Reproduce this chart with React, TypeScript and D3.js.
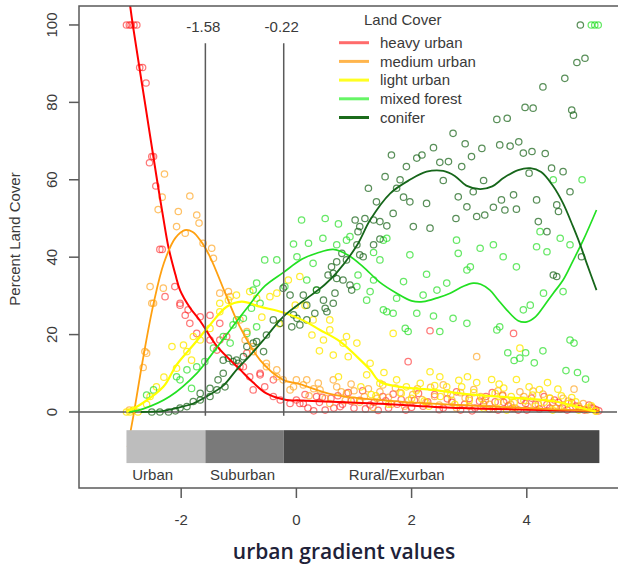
import React from "react";
import * as d3 from "d3";

// ---- data ---------------------------------------------------------------

const coverNames = ["heavy urban", "medium urban", "light urban", "mixed forest", "conifer"];

const xTicks = [-2, 0, 2, 4];
const yTicks = [0, 20, 40, 60, 80, 100];

// gradient break values marked by vertical lines
const breakValues = [-1.58, -0.22];

// urban / suburban / rural zones along the gradient
const zoneNames = ["Urban", "Suburban", "Rural/Exurban"];
const zoneEdges = [-2.95, -1.58, -0.22, 5.26];
const zoneLabelStarts = [-2.85, -1.5, 0.91];

type P = [number, number];

const heavyUrbanPts: P[] = [
  [-2.95, 100], [-2.9, 100], [-2.87, 100], [-2.82, 100], [-2.77, 100],
  [-2.72, 89], [-2.67, 89], [-2.61, 85], [-2.51, 66], [-2.48, 66], [-2.55, 64.4], [-2.44, 58.4],
  [-2.37, 42], [-2.33, 42], [-2.28, 29.8], [-2.11, 32.4], [-2.02, 27.6], [-2.02, 28.1], [-1.88, 26.4],
  [-1.93, 25], [-1.85, 22.9], [-1.73, 20.3], [-1.67, 24.6], [-1.5, 18.6], [-1.5, 25], [-1.33, 22.9],
  [-1.33, 18.6], [-1.38, 16], [-1.21, 19.5], [-0.98, 11.7], [-0.92, 11.7], [-0.86, 15.2], [-0.81, 9.1],
  [-0.75, 5.7], [-0.63, 10], [-0.63, 9.6], [-0.55, 6.5], [-0.4, 8.3], [-0.4, 4], [-0.28, 3.1],
  [-0.11, 2.2], [0, 3.1], [0.06, 2.2], [0.12, 2.2], [0.35, 4], [0.76, 1.4],
  [0.2, 1], [0.4, 2.5], [0.5, 0.5], [0.6, 3.5], [0.8, 2], [0.9, 5], [1.0, 1], [1.1, 3], [1.2, 0.8],
  [1.35, 2.5], [1.5, 4], [1.6, 1], [1.75, 2], [1.94, 13], [1.9, 0.5], [2.05, 3], [2.2, 1.5],
  [2.32, 21], [2.4, 4.5], [2.55, 1], [2.7, 2.5], [2.85, 0.5], [3.0, 3.5], [3.1, 1], [3.25, 2],
  [3.29, 4], [3.4, 5], [3.5, 0.5], [3.6, 2.5], [3.77, 20.3], [3.75, 1], [3.9, 3], [4.0, 0.5],
  [4.15, 2], [4.3, 4], [4.4, 1], [4.55, 2.5], [4.7, 0.5], [4.85, 1.5], [5.0, 0.5], [5.15, 1], [5.25, 0.3],
  [0.15, 4.5], [0.3, 0.3], [0.45, 3.8], [0.65, 1], [0.72, 4.2], [0.95, 2.8], [1.15, 5.5], [1.28, 1.8],
  [1.42, 0.4], [1.55, 2.9], [1.68, 4.6], [1.82, 3.2], [2.0, 1.2], [2.12, 4.8], [2.28, 2.6], [2.48, 0.6],
  [2.62, 3.4], [2.78, 5.2], [2.92, 2], [3.05, 0.3], [3.18, 2.8], [3.35, 0.8], [3.45, 2.6], [3.58, 4.4],
  [3.68, 1.6], [3.85, 0.5], [3.98, 2.2], [4.08, 3.6], [4.22, 0.8], [4.35, 1.9], [4.48, 3.1], [4.62, 1],
  [4.78, 2.4], [4.92, 0.9], [5.08, 1.8], [5.2, 0.6],
];

const mediumUrbanPts: P[] = [
  [-2.9, 0.5], [-2.66, 11.5], [-2.63, 15.6], [-2.6, 15.2], [-2.54, 32.4], [-2.51, 28.1], [-2.48, 28.1],
  [-2.4, 52.3], [-2.33, 55.5], [-2.31, 32], [-2.29, 61.5], [-2.08, 47.9], [-2.05, 51.8], [-1.93, 46.2],
  [-1.85, 55.8], [-1.73, 50.9], [-1.69, 48.8], [-1.62, 43.6], [-1.47, 42.3], [-1.44, 39.7],
  [-1.33, 30.7], [-1.18, 31.1], [-1.15, 29.8], [-0.98, 23.8], [-0.89, 18.6], [-0.86, 20.8],
  [-0.75, 16.9], [-0.75, 15.6], [-0.52, 11.7], [-0.52, 12.6], [-0.34, 9.1], [-0.34, 10.9],
  [-0.23, 8.3], [-0.11, 5.7], [-0.05, 6.5], [0, 8.3], [0.12, 7], [0.18, 8.3], [0.41, 5.7],
  [0.64, 8.3], [0.87, 4.8],
  [0.3, 6], [0.5, 3.5], [0.7, 6.5], [0.85, 3], [1.0, 5.5], [1.1, 2.5], [1.25, 6], [1.4, 3.5],
  [1.5, 7], [1.65, 2], [1.8, 5], [1.95, 3], [2.1, 6], [2.25, 2.5], [2.4, 4], [2.55, 7], [2.7, 3],
  [2.85, 5], [3.0, 1.5], [3.13, 14.3], [3.2, 4], [3.35, 2], [3.5, 5.5], [3.65, 3], [3.8, 1],
  [3.95, 4], [4.11, 5.4], [4.2, 2], [4.4, 3.5], [4.5, 1], [4.63, 3.5], [4.82, 5.9], [4.9, 1.5],
  [5.05, 0.5], [5.2, 0.3],
  [0.22, 4.2], [0.38, 7.5], [0.58, 2.2], [0.78, 5.2], [0.95, 7.2], [1.18, 4], [1.33, 1.2], [1.45, 5.2],
  [1.6, 3.8], [1.72, 6.2], [1.88, 1.5], [2.02, 4.5], [2.18, 3.2], [2.33, 6.4], [2.48, 1.8], [2.62, 4.9],
  [2.78, 1], [2.93, 3.6], [3.08, 5.8], [3.28, 3], [3.42, 0.8], [3.58, 4.2], [3.72, 2], [3.88, 5.2],
  [4.02, 1.4], [4.28, 4.6], [4.45, 2.4], [4.58, 0.8], [4.72, 2.8], [4.98, 2.2], [5.12, 1.2],
];

const lightUrbanPts: P[] = [
  [-2.95, 0], [-2.89, 0], [-2.83, 0.5], [-2.75, 0], [-2.6, 2], [-2.54, 4], [-2.43, 6.5], [-2.3, 9],
  [-2.16, 16.9], [-2.08, 11.3], [-1.96, 17.3], [-1.9, 15.6], [-1.82, 13.4], [-1.79, 19.5],
  [-1.67, 18.6], [-1.5, 21.6], [-1.33, 25.9], [-1.33, 28.1], [-1.18, 28.9], [-1.04, 30.2],
  [-0.81, 31.1], [-0.69, 29.4], [-0.46, 29.8], [-0.34, 30.7], [-0.14, 34.1], [-0.02, 27.6],
  [0.06, 35], [0.27, 19.9], [0.29, 23.8], [0.47, 18.6], [0.58, 23.8], [0.58, 21.2], [0.64, 14.7],
  [0.73, 9.1], [0.81, 17.8], [0.87, 19.5], [0.9, 14.3], [1.05, 17.8], [1.22, 9.6], [1.28, 12.6],
  [1.45, 7.4], [1.68, 20.3], [1.74, 8.3], [1.91, 6.5], [2.15, 7.4], [2.32, 10.4], [2.49, 9.1],
  [2.61, 6.5], [2.87, 6.5], [2.97, 9.1], [3.13, 7.6], [3.39, 8.4], [3.52, 7.2], [3.73, 4],
  [3.82, 8.4], [3.88, 16.5], [4.04, 6.5], [4.36, 7.6], [4.54, 5.9], [4.78, 3.7],
  [1.0, 3], [1.3, 4.5], [1.6, 2], [2.0, 3.5], [2.3, 1.5], [2.5, 4], [2.75, 2], [3.0, 3], [3.25, 1],
  [3.5, 2.5], [3.65, 0.5], [3.95, 3], [4.15, 1.5], [4.3, 2.5], [4.45, 0.5], [4.65, 1.5], [4.9, 0.5],
  [5.05, 1], [5.2, 0.2],
  [-0.6, 24.5], [-0.3, 22.8], [0.15, 27.5], [0.4, 15.8], [1.12, 6.5], [1.38, 4.2], [1.52, 10.2],
  [1.82, 4.8], [2.08, 5.5], [2.22, 2.8], [2.4, 6.8], [2.68, 4.4], [2.82, 8.2], [3.08, 5], [3.22, 3.4],
  [3.45, 4.8], [3.6, 6.2], [3.78, 2.4], [4.1, 4.4], [4.22, 5.8], [4.4, 3.6], [4.6, 4.2], [4.72, 2.2],
  [4.85, 2.6], [5.12, 1.6],
];

const mixedForestPts: P[] = [
  [-2.6, 4.4], [-2.48, 5.7], [-2.08, 9.1], [-2.02, 8.3], [-1.9, 10.9], [-1.82, 6.1], [-1.73, 11.7],
  [-1.59, 13], [-1.44, 16.5], [-1.27, 19.5], [-1.15, 17.8], [-1.1, 22.5], [-1.04, 23.8], [-0.92, 24.2],
  [-0.86, 20.3], [-0.78, 26.8], [-0.75, 31.5], [-0.69, 33.3], [-0.69, 22], [-0.63, 28.1], [-0.55, 39.3],
  [-0.34, 39.3], [-0.2, 32.4], [-0.05, 43.4], [0.01, 40.1], [0.09, 49.6], [0.18, 34.1], [0.21, 43.6],
  [0.29, 38.4], [0.35, 31.5], [0.46, 44.9], [0.5, 50], [0.7, 43.2], [0.73, 48.6], [0.87, 44.4],
  [0.93, 45.3], [1.05, 32.4], [1.07, 35.4], [1.22, 28.9], [1.28, 31.1], [1.34, 41.2], [1.34, 34.1],
  [1.45, 39.3], [1.51, 26.4], [1.51, 44.4], [1.57, 44.9], [1.57, 25.9], [1.68, 25.5], [1.74, 29.4],
  [1.86, 33.7], [1.89, 21.6], [1.94, 20.8], [1.97, 40.6], [2.09, 25.5], [2.2, 30.2], [2.26, 35.6],
  [2.38, 24.8], [2.44, 31.5], [2.49, 20.8], [2.61, 33.3], [2.72, 24.2], [2.78, 44.4], [2.81, 41],
  [2.96, 22.9], [2.96, 36.7], [3.02, 37.5], [3.19, 42.3], [3.42, 43.2], [3.48, 21.2], [3.53, 22],
  [3.59, 40.1], [3.67, 15.3], [3.78, 13.3], [3.82, 37.5], [3.88, 13.9], [3.98, 15.3], [3.94, 26.4],
  [4.06, 27.6], [4.13, 12.7], [4.17, 42.7], [4.23, 46.6], [4.28, 15.8], [4.29, 30.7], [4.35, 41.4],
  [4.46, 60], [4.58, 44.9], [4.63, 31.1], [4.68, 10.7], [4.75, 43.2], [4.75, 18.6], [4.82, 17.8],
  [4.88, 10.2], [4.96, 60], [5.02, 8.5], [5.12, 100], [5.18, 100], [5.24, 100],
];

const coniferPts: P[] = [
  [-2.51, 0], [-2.37, 0], [-2.22, 0], [-2.1, 0.3], [-2.02, 1], [-1.9, 1.4], [-1.79, 2.7], [-1.67, 3.1],
  [-1.67, 4.8], [-1.5, 4], [-1.5, 6.1], [-1.38, 5.7], [-1.36, 8.3], [-1.27, 10], [-1.27, 13.4],
  [-1.24, 6.5], [-1.18, 13.9], [-1.1, 13], [-1.04, 13.4], [-1.01, 12.6], [-0.92, 14.3], [-0.86, 16.9],
  [-0.75, 17.8], [-0.69, 18.2], [-0.57, 15.6], [-0.52, 19.9], [-0.4, 23.8], [-0.28, 22.9], [-0.23, 32],
  [-0.11, 30.2], [-0.08, 22], [-0.05, 25.1], [0.01, 24.2], [0.06, 22.5], [0.12, 30.2], [0.18, 27.6],
  [0.18, 23.8], [0.32, 25.5], [0.35, 31.5], [0.47, 28.9], [0.5, 26.8], [0.53, 25.9], [0.55, 35.4],
  [0.61, 37.5], [0.64, 28.1], [0.64, 35.8], [0.67, 30.7], [0.7, 38.8], [0.7, 34.5], [0.79, 41],
  [0.81, 34.1], [0.87, 39.3], [0.93, 32.8], [0.96, 31.5], [1.02, 49.6], [1.05, 43.2], [1.07, 46.6],
  [1.1, 47.9], [1.1, 40.6], [1.16, 40.1], [1.19, 50], [1.25, 57.8], [1.34, 49.6], [1.34, 43.2],
  [1.39, 54.3], [1.45, 49.2], [1.45, 44.7], [1.54, 60.8], [1.57, 48.1], [1.65, 66.4], [1.68, 51.3],
  [1.74, 57.8], [1.8, 60], [1.86, 55.5], [1.91, 63.4], [1.97, 54.3], [2.03, 47.9], [2.09, 65.6],
  [2.18, 66.4], [2.26, 53.9], [2.32, 47.5], [2.38, 68.3], [2.49, 64.5], [2.55, 59.8], [2.64, 64.7],
  [2.72, 72], [2.77, 50], [2.81, 55.6], [2.87, 63.4], [2.93, 69.3], [2.96, 53], [3.04, 66],
  [3.07, 56.9], [3.13, 50.5], [3.22, 68.1], [3.25, 59.8], [3.27, 50.9], [3.42, 52.9], [3.48, 75.6],
  [3.53, 69], [3.56, 54.8], [3.62, 52.2], [3.66, 75.9], [3.71, 68.7], [3.77, 56.1], [3.82, 52.4],
  [3.86, 69.8], [3.94, 66.9], [3.97, 78.7], [4.04, 61.7], [4.09, 67.3], [4.11, 78.5], [4.17, 54.8],
  [4.2, 49.2], [4.28, 84], [4.32, 66.8], [4.35, 46.6], [4.43, 63], [4.46, 35.4], [4.52, 53.5],
  [4.52, 35], [4.55, 51.8], [4.63, 62.1], [4.66, 86.2], [4.75, 56.9], [4.78, 78], [4.81, 76.7],
  [4.87, 90.3], [4.95, 40.1], [5.01, 91.4], [4.93, 100],
];

// smoothed trend for each land cover class
const heavyUrbanFit: P[] = [
  [-2.93, 110], [-2.84, 100], [-2.63, 80], [-2.42, 60], [-2.32, 51], [-2.22, 42.5], [-2.1, 35.5],
  [-2.02, 31.5], [-1.85, 27], [-1.67, 23.5], [-1.38, 17], [-0.98, 11], [-0.75, 7.6], [-0.52, 4.8],
  [-0.17, 3.1], [0.06, 3], [1.45, 2.1], [2.84, 1], [4.0, 0.6], [5.25, 0.3],
];
const mediumUrbanFit: P[] = [
  [-2.93, -9], [-2.83, -1], [-2.66, 14], [-2.48, 28], [-2.3, 38.5], [-2.1, 45], [-1.93, 47],
  [-1.8, 46.5], [-1.67, 44.4], [-1.5, 40.1], [-1.21, 29.8], [-0.98, 22], [-0.63, 13.4],
  [-0.23, 8.3], [0.06, 7.2], [0.64, 4.5], [1.8, 2.7], [2.84, 1.8], [4.0, 1], [5.25, 0.2],
];
const lightUrbanFit: P[] = [
  [-2.95, 0], [-2.7, 2], [-2.31, 6.5], [-2.08, 12.2], [-1.79, 17.3], [-1.5, 22.5], [-1.21, 27.2],
  [-0.95, 28.5], [-0.63, 27.2], [-0.23, 25.7], [0.1, 23.8], [0.41, 21.2], [0.76, 18.2], [1.05, 14.3],
  [1.28, 10.9], [1.45, 7.8], [1.8, 6.5], [2.38, 5.7], [2.84, 4.8], [3.4, 4.1], [3.91, 3.5],
  [4.49, 2.7], [4.9, 1.2], [5.2, 0.1],
];
const mixedForestFit: P[] = [
  [-2.9, 0], [-2.66, 0.8], [-2.2, 4], [-1.73, 10], [-1.5, 14.3], [-1.15, 21.2], [-0.85, 27],
  [-0.55, 32.5], [-0.23, 36], [0.1, 39.5], [0.35, 41], [0.64, 42], [0.9, 40.5], [1.16, 37.5],
  [1.45, 33.5], [1.74, 30.7], [2.0, 28.7], [2.2, 28.5], [2.45, 29.5], [2.67, 30.7], [2.9, 32.5],
  [3.07, 33.3], [3.2, 33], [3.36, 31.5], [3.5, 29], [3.65, 26.4], [3.85, 23.6], [4.0, 23.3],
  [4.15, 24.6], [4.29, 27.2], [4.45, 30.5], [4.63, 34.1], [4.8, 39], [4.98, 44.4], [5.21, 52.2],
];
const coniferFit: P[] = [
  [-2.7, 0], [-2.3, 0.3], [-2.08, 1], [-1.79, 2.2], [-1.56, 4], [-1.27, 6.8], [-1.04, 10.9],
  [-0.81, 14.5], [-0.52, 19.5], [-0.23, 24.6], [0.24, 30], [0.5, 33], [0.7, 36], [1.05, 43],
  [1.28, 49.6], [1.63, 56.5], [1.97, 60], [2.26, 62.1], [2.55, 62.3], [2.75, 61], [2.95, 58.5],
  [3.19, 57.6], [3.4, 58.3], [3.6, 60.5], [3.85, 62.5], [4.06, 63], [4.25, 62], [4.45, 58.5],
  [4.63, 53.9], [4.8, 48], [4.92, 43.5], [5.05, 38], [5.21, 31.5],
];

const seriesPoints = [heavyUrbanPts, mediumUrbanPts, lightUrbanPts, mixedForestPts, coniferPts];
const seriesFits = [heavyUrbanFit, mediumUrbanFit, lightUrbanFit, mixedForestFit, coniferFit];

// ---- styles -------------------------------------------------------------

const pointColors = [
  "rgba(255,30,30,0.6)",
  "rgba(255,160,20,0.65)",
  "rgba(255,232,0,0.8)",
  "rgba(20,220,20,0.65)",
  "rgba(25,100,25,0.72)",
];
const lineColors = ["#ff0000", "#ffa010", "#ffff00", "#22e022", "#16661a"];
const lineWidths = [2, 1.8, 2.2, 1.7, 1.8];
const legendColors = ["#ff6b6b", "#ffb54d", "#ffff22", "#66f566", "#1b6b1b"];
const zoneFills = ["#bdbdbd", "#7a7a7a", "#474747"];

const FONT = "'Liberation Sans', Arial, sans-serif";
const TXT = "#3a3a3a";
const AXIS = "#5a5a5a";

const W = 618;
const H = 569;
const PL = 79, PR = 617, PT = 6, PB = 488;

export default function App() {
  const x = d3.scaleLinear().domain([-3.774, 5.566]).range([PL, PR]);
  const y = d3.scaleLinear().domain([-19.64, 104.9]).range([PB, PT]);

  const line = d3
    .line<P>()
    .x((d) => x(d[0]))
    .y((d) => y(d[1]))
    .curve(d3.curveCatmullRom.alpha(0.5));

  return (
    <svg
      width={W}
      height={H}
      viewBox={`0 0 ${W} ${H}`}
      style={{ position: "absolute", left: 0, top: 0, background: "#fff" }}
      fontFamily={FONT}
    >
      <defs>
        <clipPath id="plotArea">
          <rect x={PL} y={PT} width={PR - PL} height={PB - PT} />
        </clipPath>
      </defs>

      {/* scatter of sampled land cover percentages */}
      <g clipPath="url(#plotArea)">
        {seriesPoints.map((pts, si) => (
          <g key={si} fill="none" stroke={pointColors[si]} strokeWidth={1.25}>
            {pts.map((d, i) => (
              <circle key={i} cx={x(d[0])} cy={y(d[1])} r={3.2} />
            ))}
          </g>
        ))}
      </g>

      {/* zero reference line */}
      <line x1={PL} x2={PR} y1={y(0)} y2={y(0)} stroke={AXIS} strokeWidth={1.5} />

      {/* smoothed fits */}
      <g clipPath="url(#plotArea)" fill="none">
        {seriesFits.map((fit, si) => (
          <path key={si} d={line(fit) || ""} stroke={lineColors[si]} strokeWidth={lineWidths[si]} />
        ))}
      </g>

      {/* gradient break lines */}
      {breakValues.map((b) => (
        <g key={b}>
          <line x1={x(b)} x2={x(b)} y1={y(95.3)} y2={y(-1)} stroke={AXIS} strokeWidth={1.5} />
          <text x={x(b) - 2} y={y(99.5)} dy="0.35em" textAnchor="middle" fontSize={15} fill={TXT}>
            {b.toFixed(2)}
          </text>
        </g>
      ))}

      {/* zone bars */}
      {zoneNames.map((name, i) => (
        <g key={name}>
          <rect
            x={x(zoneEdges[i])}
            y={y(-4.7)}
            width={x(zoneEdges[i + 1]) - x(zoneEdges[i])}
            height={y(-13.2) - y(-4.7)}
            fill={zoneFills[i]}
          />
          <text x={x(zoneLabelStarts[i])} y={y(-16.3)} dy="0.35em" fontSize={15} fill={TXT}>
            {name}
          </text>
        </g>
      ))}

      {/* frame */}
      <rect x={PL} y={PT} width={PR - PL + 6} height={PB - PT} fill="none" stroke={AXIS} strokeWidth={1.5} />

      {/* x axis */}
      {xTicks.map((t) => (
        <g key={t}>
          <line x1={x(t)} x2={x(t)} y1={PB} y2={PB + 10} stroke={AXIS} strokeWidth={1.5} />
          <text x={x(t)} y={520} dy="0.35em" textAnchor="middle" fontSize={15} fill={TXT}>
            {t}
          </text>
        </g>
      ))}

      {/* y axis */}
      {yTicks.map((t) => (
        <g key={t}>
          <line x1={PL - 10} x2={PL} y1={y(t)} y2={y(t)} stroke={AXIS} strokeWidth={1.5} />
          <text
            transform={`translate(52,${y(t)}) rotate(-90)`}
            dy="0.35em"
            textAnchor="middle"
            fontSize={15}
            fill={TXT}
          >
            {t}
          </text>
        </g>
      ))}
      <text
        transform={`translate(15,${(PT + PB) / 2 - 8}) rotate(-90)`}
        dy="0.35em"
        textAnchor="middle"
        fontSize={15}
        fill={TXT}
      >
        Percent Land Cover
      </text>

      {/* legend */}
      <text x={364} y={20} dy="0.35em" fontSize={15} fill={TXT}>
        Land Cover
      </text>
      {coverNames.map((name, i) => {
        const ly = 42.7 + i * 18.7;
        return (
          <g key={name}>
            <line x1={339} x2={369} y1={ly} y2={ly} stroke={legendColors[i]} strokeWidth={3} />
            <text x={380} y={ly} dy="0.35em" fontSize={15} fill={TXT}>
              {name}
            </text>
          </g>
        );
      })}

      {/* x title */}
      <text
        x={344}
        y={552}
        dy="0.35em"
        textAnchor="middle"
        fontSize={21}
        fontWeight={600}
        fontFamily="'Open Sans', 'Noto Sans', sans-serif"
        fill="#1e2238"
      >
        urban gradient values
      </text>
    </svg>
  );
}
